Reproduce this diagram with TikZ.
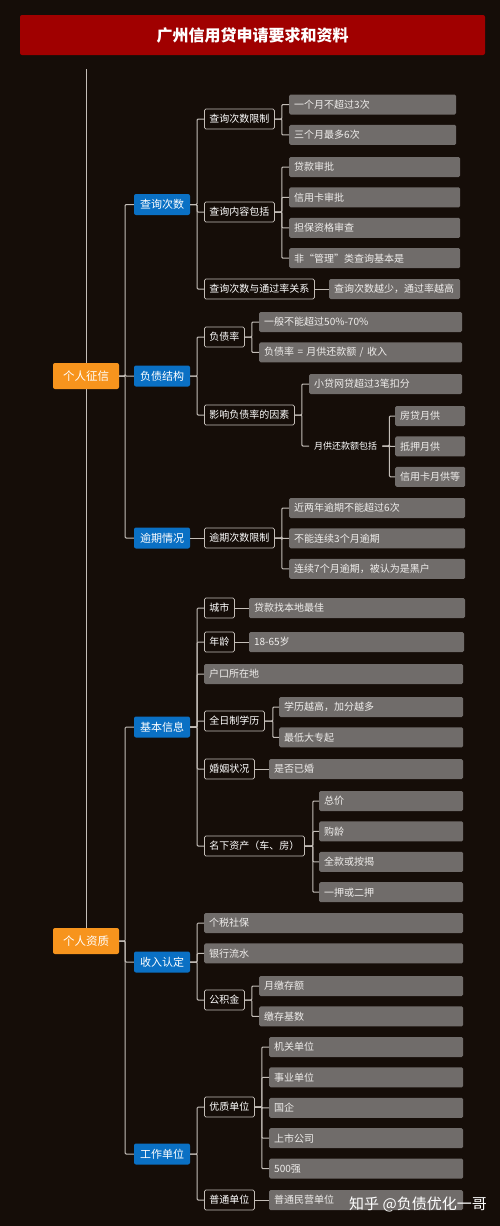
\documentclass[tikz,border=0pt]{standalone}
\usepackage{fontspec}
\setmainfont{Noto Sans CJK SC}
\usepackage{tikz}
\usetikzlibrary{positioning}

\definecolor{bgdark}{RGB}{21,13,8}
\definecolor{titlered}{RGB}{160,0,0}
\definecolor{rootorange}{RGB}{247,148,29}
\definecolor{catblue}{RGB}{10,112,196}
\definecolor{leafgray}{RGB}{112,108,106}
\definecolor{linegray}{RGB}{196,190,184}
\definecolor{leaftext}{RGB}{240,238,236}

\begin{document}
\begin{tikzpicture}[
  x=1pt, y=-1pt,
  node distance=10pt and 14pt,
  titlebar/.style={fill=titlered, rounded corners=2pt, text=white, minimum width=465pt, minimum height=40pt, font=\fontsize{16}{18}\selectfont\bfseries},
  rootbox/.style={fill=rootorange, rounded corners=2pt, text=white, font=\fontsize{11.5}{13}\selectfont, minimum width=66pt, minimum height=26pt, inner sep=0pt},
  catbox/.style={fill=catblue, rounded corners=2pt, text=white, font=\fontsize{11}{13}\selectfont, minimum width=56pt, minimum height=21pt, inner sep=0pt},
  midbox/.style={draw=linegray, fill=bgdark, rounded corners=1.5pt, line width=0.8pt, text=white, font=\fontsize{10}{12}\selectfont, inner xsep=5pt, inner ysep=0pt, minimum height=20pt, anchor=west},
  leafbox/.style={fill=leafgray, rounded corners=1.5pt, text=leaftext, font=\fontsize{10}{12}\selectfont, inner xsep=5pt, inner ysep=0pt, minimum height=20pt, text width=#1, align=left},
  link/.style={draw=linegray, line width=1pt, rounded corners=1pt}
]

% Background and title
\fill[bgdark] (0,0) rectangle (500,1226);
\node[titlebar] (title) at (252.5,35) {广州信用贷申请要求和资料};

% Level 0
\coordinate (top) at (86,69);
\node[rootbox] (credit)  at (86,376) {个人征信};
\node[rootbox] (quality) at (86,941) {个人资质};

% Level 1
\node[catbox] (query)   at (162,204.5) {查询次数};
\node[catbox] (debt)    at (162,376)   {负债结构};
\node[catbox] (overdue) at (162,538)   {逾期情况};
\node[catbox] (basic)   at (162,727)   {基本信息};
\node[catbox] (income)  at (162,962)   {收入认定};
\node[catbox] (work)    at (162,1154)  {工作单位};

% Query branch
\node[midbox] (qlimit) at (204,119) {查询次数限制};
\node[leafbox=157pt, anchor=west] (q1) at (289,104.5) {一个月不超过3次};
\node[leafbox=157pt, below=of q1] (q2) {三个月最多6次};

\node[midbox] (qscope) at (204,212) {查询内容包括};
\node[leafbox=161pt, anchor=west] (q3) at (289,167) {贷款审批};
\node[leafbox=161pt, below=of q3] (q4) {信用卡审批};
\node[leafbox=161pt, below=of q4] (q5) {担保资格审查};
\node[leafbox=161pt, below=of q5] (q6) {非“管理”类查询基本是};

\node[midbox] (qrate) at (204,289) {查询次数与通过率关系};
\node[leafbox=121pt, right=of qrate] (q7) {查询次数越少，通过率越高};

% Debt branch
\node[midbox] (ratio) at (204,337) {负债率};
\node[leafbox=193pt, anchor=west] (d1) at (259,322) {一般不能超过50\%-70\%};
\node[leafbox=193pt, below=of d1] (d2) {负债率 = 月供还款额 / 收入};

\node[midbox] (factor) at (204,415) {影响负债率的因素};
\node[leafbox=143pt, anchor=west] (d3) at (309,384) {小贷网贷超过3笔扣分};
\node[text=white, font=\fontsize{9}{11}\selectfont, inner xsep=5pt, inner ysep=0pt, anchor=west] (monthly) at (309,446) {月供还款额包括};
\node[leafbox=60pt, anchor=west] (d4) at (395,416) {房贷月供};
\node[leafbox=60pt, below=of d4] (d5) {抵押月供};
\node[leafbox=60pt, below=of d5] (d6) {信用卡月供等};

% Overdue branch
\node[midbox] (olimit) at (204,538) {逾期次数限制};
\node[leafbox=166pt, anchor=west] (o1) at (289,508) {近两年逾期不能超过6次};
\node[leafbox=166pt, below=of o1] (o2) {不能连续3个月逾期};
\node[leafbox=166pt, below=of o2] (o3) {连续7个月逾期，被认为是黑户};

% Basic info branch
\node[midbox] (city) at (204,608) {城市};
\node[leafbox=206pt, right=of city] (b1) {贷款找本地最佳};
\node[midbox] (age) at (204,642) {年龄};
\node[leafbox=205pt, right=of age] (b2) {18-65岁};
\node[leafbox=249pt, anchor=west] (hukou) at (204,674) {户口所在地};
\node[midbox] (edu) at (204,721) {全日制学历};
\node[leafbox=174pt, anchor=west] (b3) at (279,707) {学历越高，加分越多};
\node[leafbox=174pt, below=of b3] (b4) {最低大专起};
\node[midbox] (marry) at (204,769) {婚姻状况};
\node[leafbox=184pt, right=of marry] (b5) {是否已婚};
\node[midbox] (asset) at (204,846) {名下资产（车、房）};
\node[leafbox=134pt, anchor=west] (b6) at (319,801) {总价};
\node[leafbox=134pt, below=of b6] (b7) {购龄};
\node[leafbox=134pt, below=of b7] (b8) {全款或按揭};
\node[leafbox=134pt, below=of b8] (b9) {一押或二押};

% Income branch
\node[leafbox=249pt, anchor=west] (tax) at (204,923) {个税社保};
\node[leafbox=249pt, below=of tax] (bank) {银行流水};
\node[midbox] (fund) at (204,1000) {公积金};
\node[leafbox=194pt, anchor=west] (i1) at (259,986) {月缴存额};
\node[leafbox=194pt, below=of i1] (i2) {缴存基数};

% Work branch
\node[midbox] (good) at (204,1107) {优质单位};
\node[leafbox=184pt, anchor=west] (w1) at (269,1047) {机关单位};
\node[leafbox=184pt, below=of w1] (w2) {事业单位};
\node[leafbox=184pt, below=of w2] (w3) {国企};
\node[leafbox=184pt, below=of w3] (w4) {上市公司};
\node[leafbox=184pt, below=of w4] (w5) {500强};
\node[midbox] (plain) at (204,1200) {普通单位};
\node[leafbox=184pt, right=of plain] (w6) {普通民营单位};

% Edges
\draw[link] (top) -- (credit.north);
\draw[link] (credit.south) -- (quality.north);
\foreach \kid in {query,debt,overdue}
  \draw[link] (credit.east) -- ++(6,0) |- (\kid.west);
\foreach \kid in {basic,income,work}
  \draw[link] (quality.east) -- ++(6,0) |- (\kid.west);

\foreach \kid in {qlimit,qscope,qrate}
  \draw[link] (query.east) -- ++(7,0) |- (\kid.west);
\foreach \kid in {q1,q2}
  \draw[link] (qlimit.east) -- ++(7,0) |- (\kid.west);
\foreach \kid in {q3,q4,q5,q6}
  \draw[link] (qscope.east) -- ++(7,0) |- (\kid.west);
\draw[link] (qrate.east) -- (q7.west);

\foreach \kid in {ratio,factor}
  \draw[link] (debt.east) -- ++(7,0) |- (\kid.west);
\foreach \kid in {d1,d2}
  \draw[link] (ratio.east) -- ++(7,0) |- (\kid.west);
\foreach \kid in {d3,monthly}
  \draw[link] (factor.east) -- ++(7,0) |- (\kid.west);
\foreach \kid in {d4,d5,d6}
  \draw[link] (monthly.east) -- ++(7,0) |- (\kid.west);

\draw[link] (overdue.east) -- (olimit.west);
\foreach \kid in {o1,o2,o3}
  \draw[link] (olimit.east) -- ++(7,0) |- (\kid.west);

\foreach \kid in {city,age,hukou,edu,marry,asset}
  \draw[link] (basic.east) -- ++(7,0) |- (\kid.west);
\draw[link] (city.east) -- (b1.west);
\draw[link] (age.east) -- (b2.west);
\foreach \kid in {b3,b4}
  \draw[link] (edu.east) -- ++(8,0) |- (\kid.west);
\draw[link] (marry.east) -- (b5.west);
\foreach \kid in {b6,b7,b8,b9}
  \draw[link] (asset.east) -- ++(8,0) |- (\kid.west);

\foreach \kid in {tax,bank,fund}
  \draw[link] (income.east) -- ++(7,0) |- (\kid.west);
\foreach \kid in {i1,i2}
  \draw[link] (fund.east) -- ++(7,0) |- (\kid.west);

\foreach \kid in {good,plain}
  \draw[link] (work.east) -- ++(7,0) |- (\kid.west);
\foreach \kid in {w1,w2,w3,w4,w5}
  \draw[link] (good.east) -- ++(7,0) |- (\kid.west);
\draw[link] (plain.east) -- (w6.west);

% Mark
\node[text=white, font=\fontsize{15}{17}\selectfont] (mark) at (418,1204) {知乎 @负债优化一哥};

\end{tikzpicture}
\end{document}
